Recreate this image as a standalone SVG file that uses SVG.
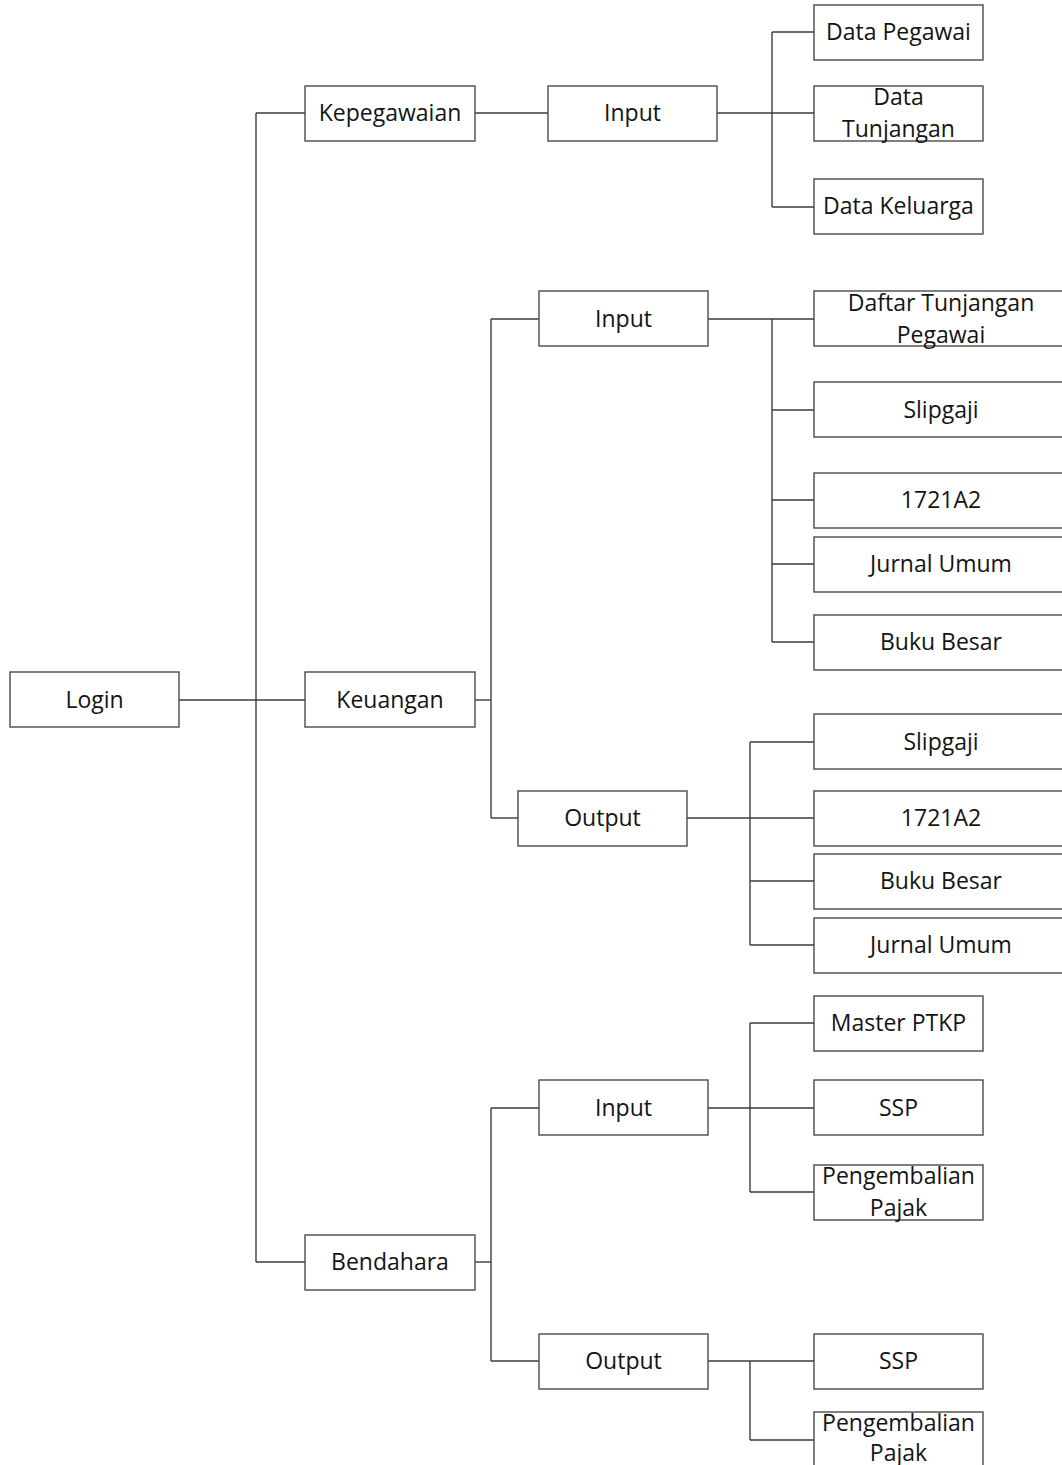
<svg xmlns="http://www.w3.org/2000/svg" width="1062" height="1465" viewBox="0 0 1062 1465">
  <style>
    .box { fill: #ffffff; stroke: #4a4a4a; stroke-width: 1.4; }
    .lbl { font-family: "Open Sans", "Noto Sans", sans-serif; font-size: 23px; fill: #141414; text-anchor: middle; }
    .wire { fill: none; stroke: #3c3c3c; stroke-width: 1.4; }
  </style>
  <rect width="1062" height="1465" fill="#ffffff"/>

  <!-- connectors -->
  <g id="connectors" class="wire">
    <!-- Login to top-level modules -->
    <path d="M179 700 H305"/>
    <path d="M256 113 V1262"/>
    <path d="M256 113 H305"/>
    <path d="M256 1262 H305"/>
    <!-- Kepegawaian -->
    <path d="M475 113 H548"/>
    <path d="M717 113 H814"/>
    <path d="M772 32 V207"/>
    <path d="M772 32 H814"/>
    <path d="M772 207 H814"/>
    <!-- Keuangan -->
    <path d="M475 700 H491"/>
    <path d="M491 319 V818"/>
    <path d="M491 319 H539"/>
    <path d="M491 818 H518"/>
    <path d="M708 319 H814"/>
    <path d="M772 319 V642"/>
    <path d="M772 410 H814"/>
    <path d="M772 500 H814"/>
    <path d="M772 564 H814"/>
    <path d="M772 642 H814"/>
    <path d="M687 818 H814"/>
    <path d="M750 742 V945"/>
    <path d="M750 742 H814"/>
    <path d="M750 881 H814"/>
    <path d="M750 945 H814"/>
    <!-- Bendahara -->
    <path d="M475 1262 H491"/>
    <path d="M491 1108 V1361"/>
    <path d="M491 1108 H539"/>
    <path d="M491 1361 H539"/>
    <path d="M708 1108 H814"/>
    <path d="M750 1023 V1192"/>
    <path d="M750 1023 H814"/>
    <path d="M750 1192 H814"/>
    <path d="M708 1361 H814"/>
    <path d="M750 1361 V1440"/>
    <path d="M750 1440 H814"/>
  </g>

  <!-- root -->
  <g id="login">
    <rect class="box" x="10" y="672" width="169" height="55"/>
    <text class="lbl" x="94.5" y="708">Login</text>
  </g>

  <!-- Kepegawaian branch -->
  <g id="kepegawaian">
    <rect class="box" x="305" y="86" width="170" height="55"/>
    <text class="lbl" x="390" y="121">Kepegawaian</text>
  </g>
  <g id="kep-input">
    <rect class="box" x="548" y="86" width="169" height="55"/>
    <text class="lbl" x="632.5" y="121">Input</text>
  </g>
  <g id="data-pegawai">
    <rect class="box" x="814" y="5" width="169" height="55"/>
    <text class="lbl" x="898.5" y="40">Data Pegawai</text>
  </g>
  <g id="data-tunjangan">
    <rect class="box" x="814" y="86" width="169" height="55"/>
    <text class="lbl" x="898.5" y="105">Data</text>
    <text class="lbl" x="898.5" y="137">Tunjangan</text>
  </g>
  <g id="data-keluarga">
    <rect class="box" x="814" y="179" width="169" height="55"/>
    <text class="lbl" x="898.5" y="214">Data Keluarga</text>
  </g>

  <!-- Keuangan branch -->
  <g id="keuangan">
    <rect class="box" x="305" y="672" width="170" height="55"/>
    <text class="lbl" x="390" y="708">Keuangan</text>
  </g>
  <g id="keu-input">
    <rect class="box" x="539" y="291" width="169" height="55"/>
    <text class="lbl" x="623.5" y="327">Input</text>
  </g>
  <g id="daftar-tunjangan-pegawai">
    <rect class="box" x="814" y="291" width="254" height="55"/>
    <text class="lbl" x="941" y="311">Daftar Tunjangan</text>
    <text class="lbl" x="941" y="343">Pegawai</text>
  </g>
  <g id="keu-in-slipgaji">
    <rect class="box" x="814" y="382" width="254" height="55"/>
    <text class="lbl" x="941" y="418">Slipgaji</text>
  </g>
  <g id="keu-in-1721a2">
    <rect class="box" x="814" y="473" width="254" height="55"/>
    <text class="lbl" x="941" y="508">1721A2</text>
  </g>
  <g id="keu-in-jurnal-umum">
    <rect class="box" x="814" y="537" width="254" height="55"/>
    <text class="lbl" x="941" y="572">Jurnal Umum</text>
  </g>
  <g id="keu-in-buku-besar">
    <rect class="box" x="814" y="615" width="254" height="55"/>
    <text class="lbl" x="941" y="650">Buku Besar</text>
  </g>
  <g id="keu-output">
    <rect class="box" x="518" y="791" width="169" height="55"/>
    <text class="lbl" x="602.5" y="826">Output</text>
  </g>
  <g id="keu-out-slipgaji">
    <rect class="box" x="814" y="714" width="254" height="55"/>
    <text class="lbl" x="941" y="750">Slipgaji</text>
  </g>
  <g id="keu-out-1721a2">
    <rect class="box" x="814" y="791" width="254" height="55"/>
    <text class="lbl" x="941" y="826">1721A2</text>
  </g>
  <g id="keu-out-buku-besar">
    <rect class="box" x="814" y="854" width="254" height="55"/>
    <text class="lbl" x="941" y="889">Buku Besar</text>
  </g>
  <g id="keu-out-jurnal-umum">
    <rect class="box" x="814" y="918" width="254" height="55"/>
    <text class="lbl" x="941" y="953">Jurnal Umum</text>
  </g>

  <!-- Bendahara branch -->
  <g id="bendahara">
    <rect class="box" x="305" y="1235" width="170" height="55"/>
    <text class="lbl" x="390" y="1270">Bendahara</text>
  </g>
  <g id="ben-input">
    <rect class="box" x="539" y="1080" width="169" height="55"/>
    <text class="lbl" x="623.5" y="1116">Input</text>
  </g>
  <g id="master-ptkp">
    <rect class="box" x="814" y="996" width="169" height="55"/>
    <text class="lbl" x="898.5" y="1031">Master PTKP</text>
  </g>
  <g id="ben-in-ssp">
    <rect class="box" x="814" y="1080" width="169" height="55"/>
    <text class="lbl" x="898.5" y="1116">SSP</text>
  </g>
  <g id="ben-in-pengembalian-pajak">
    <rect class="box" x="814" y="1165" width="169" height="55"/>
    <text class="lbl" x="898.5" y="1184">Pengembalian</text>
    <text class="lbl" x="898.5" y="1216">Pajak</text>
  </g>
  <g id="ben-output">
    <rect class="box" x="539" y="1334" width="169" height="55"/>
    <text class="lbl" x="623.5" y="1369">Output</text>
  </g>
  <g id="ben-out-ssp">
    <rect class="box" x="814" y="1334" width="169" height="55"/>
    <text class="lbl" x="898.5" y="1369">SSP</text>
  </g>
  <g id="ben-out-pengembalian-pajak">
    <rect class="box" x="814" y="1412" width="169" height="60"/>
    <text class="lbl" x="898.5" y="1431">Pengembalian</text>
    <text class="lbl" x="898.5" y="1461">Pajak</text>
  </g>
</svg>
